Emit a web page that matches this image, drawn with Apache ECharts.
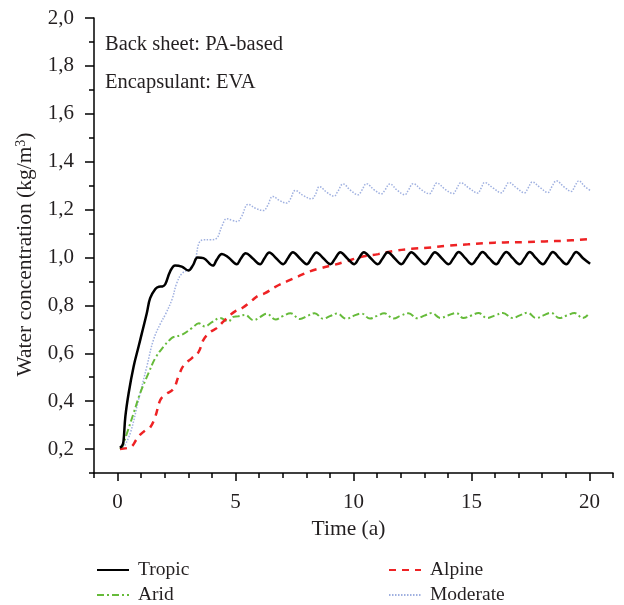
<!DOCTYPE html>
<html>
<head>
<meta charset="utf-8">
<script src="https://cdn.jsdelivr.net/npm/echarts@6/dist/echarts.min.js"></script>
<style>html,body{margin:0;padding:0;background:#fff;}#c{width:624px;height:605px;}</style>
</head>
<body>
<div id="c"></div>
<script>
var yMajorTicks = [0.2,0.4,0.6,0.8,1.0,1.2,1.4,1.6,1.8,2.0];
var yMajorLabels = ['0,2','0,4','0,6','0,8','1,0','1,2','1,4','1,6','1,8','2,0'];
var yMinorTicks = [0.1,0.3,0.5,0.7,0.9,1.1,1.3,1.5,1.7,1.9];
var xMajorTicks = [0,5,10,15,20];
var xMinorTicks = [-1,1,2,3,4,6,7,8,9,11,12,13,14,16,17,18,19,21];
var seriesNames = ['Tropic','Arid','Alpine','Moderate'];

var tropic = [[0.1,0.205],[0.2,0.215],[0.25,0.232],[0.33,0.336],[0.47,0.434],[0.68,0.545],[0.89,0.628],[1.03,0.684],[1.24,0.768],[1.38,0.83],[1.6,0.868],[1.75,0.878],[1.9,0.879],[2.02,0.888],[2.23,0.942],[2.44,0.967],[2.72,0.962],[3.0,0.946],[3.2,0.968],[3.39,1.0],[3.64,0.997],[4.04,0.966],[4.2,0.99],[4.42,1.015],[4.7,1.0],[5.05,0.972],[5.22,0.995],[5.43,1.018],[5.72,0.997],[6.04,0.972],[6.22,0.996],[6.43,1.021],[6.72,0.997],
[7.02,0.972],[7.22,0.997],[7.43,1.022],[7.72,0.997],[8.02,0.972],[8.22,0.997],[8.43,1.021],[8.72,0.997],[9.02,0.972],[9.23,0.997],[9.44,1.022],[9.73,0.997],[10.03,0.972],[10.23,0.997],[10.44,1.022],[10.73,0.997],[11.03,0.972],[11.24,0.997],[11.45,1.022],[11.74,0.997],[12.03,0.972],[12.24,0.997],[12.45,1.022],[12.74,0.997],[13.03,0.972],[13.24,0.997],[13.45,1.022],[13.74,0.997],[14.03,0.972],[14.24,0.997],[14.46,1.023],[14.74,0.997],[15.02,0.972],[15.24,0.997],[15.47,1.023],[15.75,0.997],[16.05,0.972],[16.25,0.997],[16.48,1.023],[16.75,0.997],[17.04,0.972],[17.25,0.997],[17.47,1.023],[17.74,0.997],[18.03,0.972],[18.24,0.997],[18.45,1.023],[18.73,0.997],[19.02,0.972],[19.23,0.997],[19.44,1.023],[19.73,0.997],[20.03,0.974]];

var arid = [[0.1,0.2],[0.2,0.21],[0.4,0.267],[0.68,0.35],[0.96,0.434],[1.31,0.517],[1.6,0.58],[1.95,0.628],[2.2,0.655],[2.37,0.668],[2.72,0.677],[3.15,0.705],[3.45,0.725],[3.7,0.712],[4.0,0.73],[4.35,0.747],[4.7,0.733],[4.9,0.752],[5.1,0.754],[5.4,0.76],[5.76,0.738],[6.05,0.752],[6.32,0.765],[6.7,0.741],[7.0,0.755],[7.33,0.767],[7.73,0.743],[8.05,0.756],[8.35,0.767],[8.72,0.744],[9.0,0.755],[9.3,0.766],[9.7,0.744],[10.0,0.756],[10.33,0.766],[10.7,0.745],[11.0,0.756],[11.3,0.767],[11.7,0.745],[12.0,0.757],[12.33,0.767],[12.7,0.746],[13.0,0.757],[13.32,0.768],[13.68,0.747],[14.0,0.758],[14.35,0.768],[14.66,0.747],[15.0,0.758],[15.3,0.768],[15.66,0.747],[16.0,0.758],[16.33,0.768],[16.74,0.747],[17.05,0.758],[17.38,0.769],[17.74,0.747],[18.05,0.758],[18.37,0.769],[18.73,0.747],[19.05,0.758],[19.37,0.768],[19.72,0.747],[19.93,0.76]];

var alpine = [[0.1,0.2],[0.45,0.205],[0.61,0.212],[0.8,0.24],[0.96,0.26],[1.2,0.28],[1.38,0.29],[1.6,0.336],[1.81,0.405],[2.02,0.427],[2.37,0.452],[2.58,0.503],[2.79,0.548],[3.15,0.58],[3.43,0.605],[3.64,0.656],[3.92,0.688],[4.2,0.705],[4.49,0.733],[4.74,0.757],[4.98,0.775],[5.3,0.79],[5.69,0.82],[5.95,0.84],[6.25,0.851],[6.67,0.876],[7.17,0.9],[7.66,0.921],[8.15,0.942],[8.65,0.956],[9.21,0.97],[9.64,0.982],[10.34,1.003],[11.05,1.014],[11.75,1.028],[12.46,1.036],[13.3,1.042],[14.0,1.049],[14.85,1.055],[15.56,1.06],[16.4,1.063],[17.25,1.064],[18.1,1.067],[18.95,1.07],[19.93,1.076]];

var moderate = [[0.25,0.204],[0.54,0.267],[0.89,0.406],[1.24,0.545],[1.52,0.656],[1.81,0.723],[2.02,0.761],[2.3,0.823],[2.51,0.893],[2.72,0.932],[3.08,0.956],[3.29,0.99],[3.45,1.06],[3.64,1.074],[3.95,1.074],[4.2,1.08],[4.42,1.13],[4.63,1.162],[4.85,1.155],[5.08,1.15],[5.25,1.17],[5.54,1.222],[5.85,1.205],[6.18,1.196],[6.35,1.215],[6.58,1.255],[6.88,1.237],[7.17,1.227],[7.33,1.245],[7.53,1.28],[7.88,1.258],[8.23,1.245],[8.37,1.26],[8.56,1.296],[8.87,1.272],[9.18,1.256],[9.33,1.275],[9.56,1.307],[9.88,1.28],[10.2,1.262],[10.35,1.28],[10.55,1.308],[10.88,1.282],[11.19,1.266],[11.34,1.283],[11.54,1.307],[11.86,1.28],[12.18,1.262],[12.33,1.282],[12.53,1.308],[12.88,1.283],[13.22,1.266],[13.36,1.285],[13.53,1.311],[13.88,1.285],[14.22,1.267],[14.37,1.287],[14.55,1.312],[14.92,1.288],[15.27,1.269],[15.4,1.288],[15.56,1.313],[15.92,1.29],[16.27,1.27],[16.42,1.29],[16.59,1.313],[16.92,1.29],[17.25,1.27],[17.4,1.29],[17.58,1.315],[17.91,1.292],[18.24,1.271],[18.4,1.294],[18.6,1.32],[18.92,1.295],[19.23,1.276],[19.38,1.297],[19.55,1.32],[19.8,1.297],[20.03,1.28]];

var FONT = 'Liberation Serif';
var TXT = '#231f20';
var FS = 21;
var chart = echarts.init(document.getElementById('c'), null, {renderer: 'canvas'});
var lineAxis = {show: true, onZero: false, lineStyle: {color: '#000', width: 1.5}};
function legendAt(name, left, top) {
  return {left: left, top: top, orient: 'vertical', itemWidth: 32, itemHeight: 14, selectedMode: false,
    data: [name], itemStyle: {opacity: 0, borderWidth: 0},
    textStyle: {fontFamily: FONT, fontSize: 19.5, color: TXT, padding: [0,0,0,4]}};
}
var option = {
  animation: false,
  backgroundColor: '#fff',
  grid: {left: 94, right: 11, top: 18, bottom: 132, containLabel: false},
  xAxis: [
    {type: 'value', position: 'bottom', min: -1, max: 21,
     name: 'Time (a)', nameLocation: 'middle', nameGap: 44,
     nameTextStyle: {fontFamily: FONT, fontSize: 21.5, color: TXT, padding: [0,10,0,0]},
     axisLine: lineAxis,
     axisTick: {show: true, customValues: xMajorTicks, length: 8, lineStyle: {color: '#000', width: 1.5}},
     axisLabel: {show: true, customValues: xMajorTicks, margin: 19, fontFamily: FONT, fontSize: FS, color: TXT},
     splitLine: {show: false}},
    {type: 'value', position: 'bottom', min: -1, max: 21,
     axisLine: {show: false, onZero: false},
     axisTick: {show: true, customValues: xMinorTicks, length: 5, lineStyle: {color: '#000', width: 1.5}},
     axisLabel: {show: false}, splitLine: {show: false}}
  ],
  yAxis: [
    {type: 'value', position: 'left', min: 0.1, max: 2.0,
     name: '{n|Water concentration (kg/m}{s|3}{n|)}', nameLocation: 'middle', nameGap: 51, nameRotate: 90,
     nameTextStyle: {fontFamily: FONT, fontSize: 21.5, color: TXT, padding: [0,18,0,0],
       rich: {n: {fontFamily: FONT, fontSize: 21.5, color: TXT}, s: {fontFamily: FONT, fontSize: 14, color: TXT, verticalAlign: 'top', padding: [0,0,10,0]}}},
     axisLine: lineAxis,
     axisTick: {show: true, customValues: yMajorTicks, length: 9, lineStyle: {color: '#000', width: 1.5}},
     axisLabel: {show: true, customValues: yMajorTicks, margin: 20, fontFamily: FONT, fontSize: FS, color: TXT,
       formatter: function (v) { var i = yMajorTicks.findIndex(function (t) { return Math.abs(t - v) < 1e-6; }); return i >= 0 ? yMajorLabels[i] : ''; }},
     splitLine: {show: false}},
    {type: 'value', position: 'left', min: 0.1, max: 2.0,
     axisLine: {show: false, onZero: false},
     axisTick: {show: true, customValues: yMinorTicks, length: 5, lineStyle: {color: '#000', width: 1.5}},
     axisLabel: {show: false}, splitLine: {show: false}}
  ],
  legend: [
    legendAt('Tropic', 91, 555),
    legendAt('Arid', 91, 580),
    legendAt('Alpine', 383, 555),
    legendAt('Moderate', 383, 580)
  ],
  graphic: [
    {type: 'text', left: 105, top: 34, style: {text: 'Back sheet: PA-based', font: '20.5px "Liberation Serif"', fill: TXT}},
    {type: 'text', left: 105, top: 72, style: {text: 'Encapsulant: EVA', font: '20.5px "Liberation Serif"', fill: TXT}}
  ],
  series: [
    {name: seriesNames[0], type: 'line', data: tropic, xAxisIndex: 0, yAxisIndex: 0, symbol: 'none', smooth: 0.4,
     lineStyle: {color: '#000000', width: 2.5}, itemStyle: {color: '#000000'}, z: 5},
    {name: seriesNames[1], type: 'line', data: arid, xAxisIndex: 0, yAxisIndex: 0, symbol: 'none', smooth: 0.4,
     lineStyle: {color: '#66bb3a', width: 2, type: [7,3,2,3]}, itemStyle: {color: '#66bb3a'}, z: 3},
    {name: seriesNames[2], type: 'line', data: alpine, xAxisIndex: 0, yAxisIndex: 0, symbol: 'none', smooth: 0.4,
     lineStyle: {color: '#ee2224', width: 2.5, type: [7,6]}, itemStyle: {color: '#ee2224'}, z: 4},
    {name: seriesNames[3], type: 'line', data: moderate, xAxisIndex: 0, yAxisIndex: 0, symbol: 'none', smooth: 0.4,
     lineStyle: {color: '#9fb0e0', width: 1.5, type: [1.5,1.5]}, itemStyle: {color: '#9fb0e0'}, z: 2}
  ]
};
chart.setOption(option);
</script>
</body>
</html>
